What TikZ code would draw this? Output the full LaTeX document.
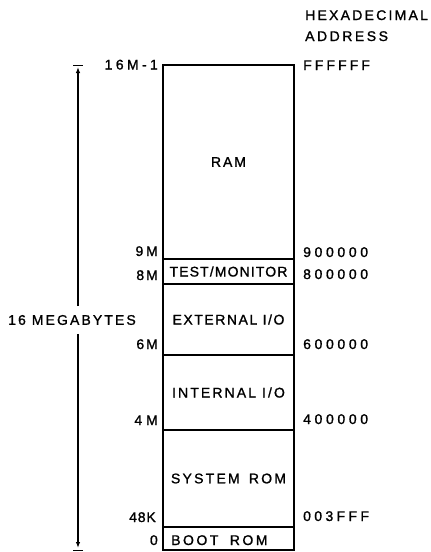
\documentclass[tikz,border=0pt]{standalone}
\usepackage{fontspec}
\setmainfont{Liberation Sans}[FakeBold=1.2]
\usetikzlibrary{arrows.meta}
\begin{document}
\begin{tikzpicture}[x=1pt,y=-1pt,
  ls/.style={inner sep=0pt, font={\fontsize{14}{16}\selectfont\addfontfeature{LetterSpace=#1}}},
  region/.style={draw, line width=1.6pt, minimum width=131pt, inner sep=0pt},
  leftlbl/.style={ls=#1, anchor=base east},
  rightlbl/.style={ls=#1, anchor=base west},
  dimline/.style={line width=1.3pt},
  dimarrow/.style={dimline, -{Latex[length=6pt,width=4.5pt]}},
  tickbar/.style={line width=1pt}]
\useasboundingbox (0,0) rectangle (431,552);

% memory regions
\node[region, minimum height=194pt, ls=14] (ram) at (228.5,162) {RAM};
\node[region, minimum height=25pt, ls=8] (test) at (228.5,271.5) {TEST/MONITOR};
\node[region, minimum height=71pt, ls=11] (ext) at (228.5,319.5) {EXTERNAL I/O};
\node[region, minimum height=75pt, ls=15] (int) at (228.5,392.5) {INTERNAL I/O};
\node[region, minimum height=97pt, ls=16] (sys) at (228.5,478.5) {SYSTEM\hspace{3pt} ROM};
\node[region, minimum height=23pt] (boot) at (228.5,538.5) {};
\node[ls=18, anchor=base west] (boottxt) at (171,545) {BOOT\hspace{5pt} ROM};

% left addresses
\node[leftlbl=24] (l16m) at (158,69.5) {16M-1};
\node[leftlbl=20] (l9m) at (158,256) {9M};
\node[leftlbl=14] (l8m) at (158,280) {8M};
\node[leftlbl=14] (l6m) at (158,349) {6M};
\node[leftlbl=28] (l4m) at (158,425) {4M};
\node[leftlbl=6] (l48k) at (156,522) {48K};
\node[leftlbl=14] (l0) at (158,545) {0};

% right addresses
\node[rightlbl=16] (hex) at (305,20) {HEXADECIMAL};
\node[rightlbl=18] (addr) at (305,41) {ADDRESS};
\node[rightlbl=22] (rf) at (303,70) {FFFFFF};
\node[rightlbl=26] (r9) at (303,257) {900000};
\node[rightlbl=26] (r8) at (303,279) {800000};
\node[rightlbl=26] (r6) at (303,349) {600000};
\node[rightlbl=26] (r4) at (303,424) {400000};
\node[rightlbl=24] (r3) at (303,521) {003FFF};

% dimension
\node[ls=15, outer ysep=9pt] (mega) at (72,320) {16 MEGABYTES};
\coordinate (dtop) at (78,65);
\coordinate (dbot) at (78,550);
\draw[tickbar] ([xshift=-5pt]dtop) -- ([xshift=5pt]dtop);
\draw[tickbar] ([xshift=-5pt]dbot) -- ([xshift=5pt]dbot);
\draw[dimarrow] (mega.north -| dtop) -- ([yshift=-2pt]dtop);
\draw[dimarrow] (mega.south -| dbot) -- ([yshift=2pt]dbot);
\end{tikzpicture}
\end{document}
